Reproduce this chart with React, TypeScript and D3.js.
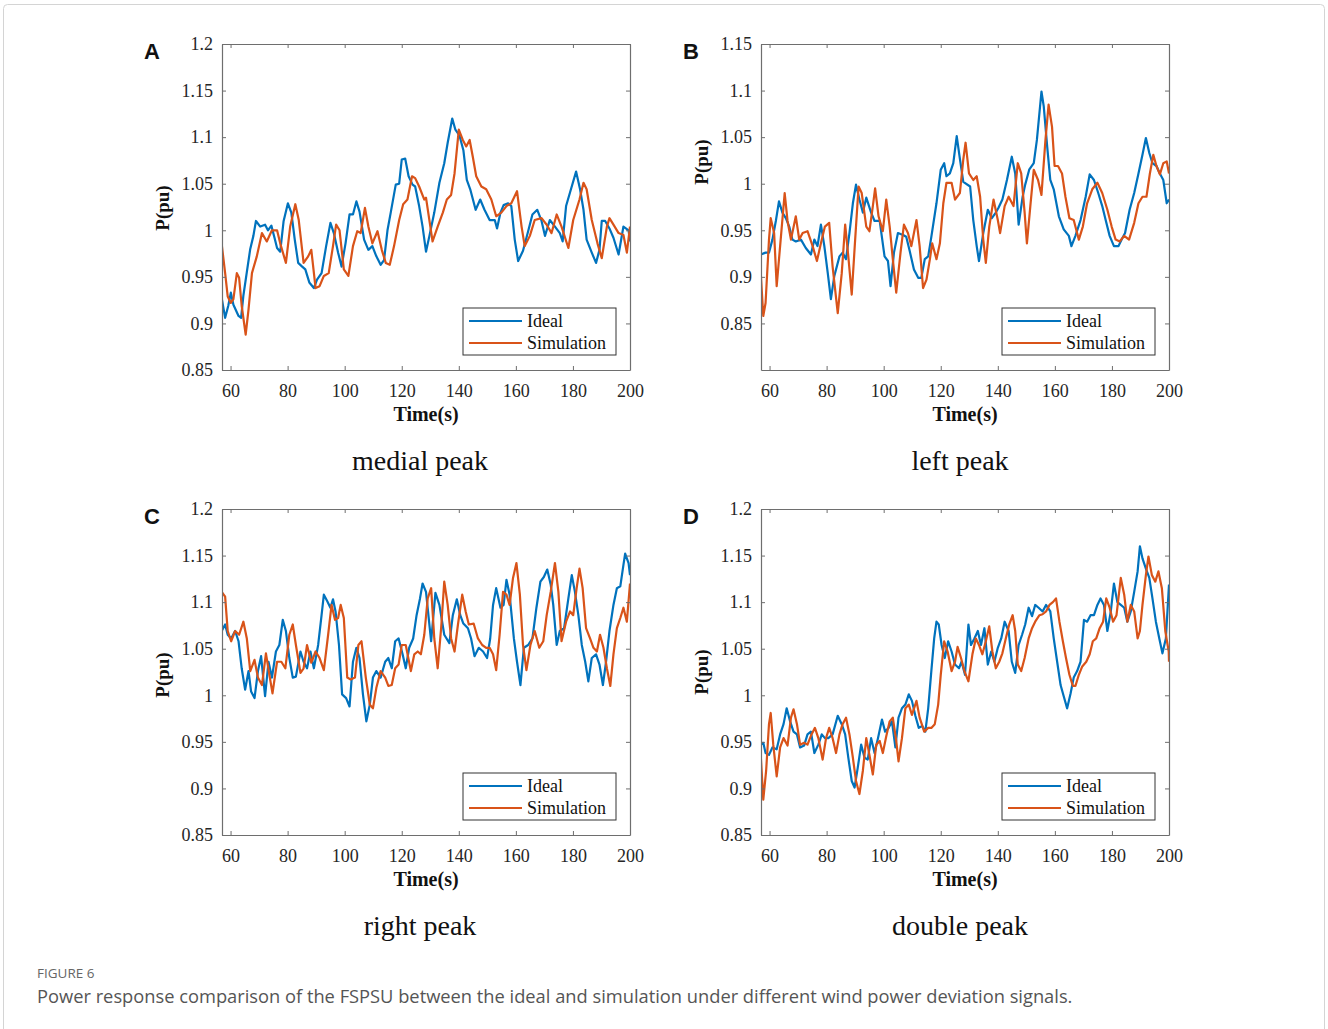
import React, { useRef, useEffect } from 'react';
import * as d3 from 'd3';

type Pt = [number, number];

// axis ticks
const xTicks = [60, 80, 100, 120, 140, 160, 180, 200];
const yTicksA = [0.85, 0.9, 0.95, 1, 1.05, 1.1, 1.15, 1.2];
const yTicksB = [0.85, 0.9, 0.95, 1, 1.05, 1.1, 1.15];

const seriesNames = ['Ideal', 'Simulation'];
const subtitles = ['medial peak', 'left peak', 'right peak', 'double peak'];

// (A) medial peak
const medialIdeal: Pt[] = [
  [56.9, 0.927], [58.1, 0.906], [59.2, 0.919], [60.1, 0.933], [61.0, 0.92], [62.8, 0.908], [63.7, 0.906], [64.5, 0.93],
  [65.7, 0.955], [66.9, 0.98], [68.0, 0.994], [68.9, 1.01], [70.4, 1.004], [72.1, 1.006], [73.1, 1.0], [74.3, 1.005],
  [75.4, 0.992], [76.3, 0.981], [77.4, 0.977], [78.6, 1.01], [80.1, 1.029], [81.3, 1.019], [82.5, 0.99], [83.7, 0.965],
  [85.1, 0.961], [86.2, 0.958], [87.6, 0.944], [89.2, 0.938], [90.3, 0.947], [91.9, 0.954], [93.5, 0.983], [95.0, 1.008],
  [96.2, 0.997], [97.7, 0.976], [98.9, 0.961], [100.3, 0.986], [101.7, 1.017], [102.9, 1.017], [104.1, 1.031], [105.2, 1.02],
  [106.8, 0.99], [108.3, 0.979], [109.7, 0.983], [111.1, 0.972], [112.6, 0.963], [113.8, 0.968], [115.0, 1.0], [116.2, 1.02],
  [117.9, 1.049], [119.1, 1.05], [120.0, 1.076], [121.2, 1.077], [122.4, 1.058], [123.8, 1.049], [124.7, 1.047], [126.1, 1.026],
  [127.3, 1.004], [128.5, 0.977], [129.7, 0.994], [131.4, 1.019], [133.2, 1.051], [134.9, 1.072], [136.1, 1.094], [137.7, 1.12],
  [138.8, 1.108], [140.2, 1.102], [141.6, 1.086], [142.8, 1.054], [144.0, 1.044], [145.9, 1.022], [147.5, 1.033], [149.0, 1.022],
  [150.8, 1.011], [152.6, 1.011], [153.4, 1.002], [154.6, 1.019], [155.7, 1.027], [157.3, 1.029], [158.4, 1.026], [159.6, 0.99],
  [160.8, 0.967], [162.5, 0.978], [164.3, 0.999], [165.8, 1.017], [167.5, 1.022], [169.0, 1.01], [170.2, 0.994], [171.9, 1.011],
  [173.7, 1.004], [175.4, 0.997], [176.4, 0.988], [177.6, 1.026], [179.2, 1.043], [181.1, 1.063], [182.5, 1.044], [183.7, 1.022],
  [184.8, 0.99], [186.6, 0.976], [188.1, 0.965], [189.3, 0.979], [190.1, 1.01], [191.3, 1.01], [192.8, 1.002], [194.2, 0.992],
  [196.0, 0.974], [197.7, 1.004], [199.5, 1.0], [200.0, 0.988],
];
const medialSim: Pt[] = [
  [56.9, 0.985], [58.1, 0.954], [59.0, 0.929], [60.1, 0.922], [61.0, 0.926], [62.2, 0.954], [63.0, 0.949], [63.9, 0.919],
  [65.3, 0.888], [66.3, 0.915], [67.5, 0.954], [69.2, 0.972], [71.0, 0.997], [72.7, 0.988], [74.5, 1.0], [76.3, 1.0],
  [77.4, 0.986], [79.4, 0.965], [80.9, 1.004], [82.7, 1.028], [83.9, 1.011], [85.6, 0.965], [87.2, 0.972], [88.3, 0.979],
  [89.8, 0.938], [91.2, 0.94], [92.7, 0.951], [94.4, 0.954], [95.9, 0.983], [97.0, 1.006], [98.2, 1.0], [99.7, 0.958],
  [101.3, 0.951], [102.9, 0.983], [104.4, 0.999], [105.6, 0.997], [107.1, 1.024], [108.3, 1.004], [109.7, 0.986], [111.5, 0.999],
  [113.0, 0.979], [114.4, 0.965], [115.8, 0.963], [117.3, 0.983], [119.1, 1.011], [120.5, 1.028], [122.0, 1.033], [123.6, 1.058],
  [124.7, 1.056], [126.1, 1.047], [127.9, 1.033], [128.5, 1.035], [130.8, 0.988], [132.6, 1.004], [134.4, 1.019], [135.8, 1.033],
  [137.3, 1.038], [138.5, 1.061], [140.0, 1.108], [141.4, 1.097], [142.6, 1.09], [143.8, 1.097], [144.9, 1.079], [146.1, 1.058],
  [147.9, 1.047], [149.6, 1.044], [151.4, 1.033], [153.1, 1.015], [154.9, 1.019], [156.7, 1.026], [158.4, 1.029], [160.4, 1.042],
  [162.0, 1.004], [163.1, 0.983], [164.9, 0.994], [166.6, 1.011], [169.0, 1.013], [170.8, 1.006], [172.5, 0.997], [174.3, 1.017],
  [176.0, 1.004], [178.4, 0.981], [180.1, 1.011], [182.3, 1.033], [183.7, 1.051], [184.8, 1.044], [186.6, 1.011], [188.6, 0.986],
  [190.1, 0.97], [191.9, 1.004], [192.8, 1.013], [194.2, 1.006], [196.0, 0.997], [197.7, 0.995], [198.9, 0.976], [200.0, 1.004],
];

// (B) left peak
const leftIdeal: Pt[] = [
  [56.9, 0.924], [58.6, 0.926], [59.8, 0.926], [61.0, 0.94], [62.2, 0.96], [63.3, 0.981], [64.5, 0.969], [65.7, 0.963],
  [66.9, 0.954], [68.0, 0.94], [69.2, 0.938], [71.0, 0.94], [72.7, 0.931], [74.5, 0.924], [75.7, 0.94], [76.8, 0.933],
  [78.0, 0.956], [79.2, 0.933], [80.4, 0.904], [81.5, 0.876], [82.7, 0.901], [84.5, 0.922], [85.6, 0.926], [86.8, 0.919],
  [88.0, 0.947], [89.2, 0.979], [90.3, 0.999], [91.5, 0.983], [92.7, 0.969], [93.9, 0.985], [95.6, 0.969], [96.8, 0.96],
  [98.6, 0.96], [100.3, 0.922], [101.5, 0.917], [102.4, 0.89], [103.6, 0.926], [105.0, 0.947], [106.8, 0.945], [107.9, 0.943],
  [109.1, 0.928], [110.6, 0.908], [112.1, 0.899], [113.2, 0.899], [114.4, 0.919], [115.6, 0.922], [116.7, 0.943], [118.5, 0.979],
  [120.0, 1.015], [121.2, 1.022], [122.0, 1.008], [123.2, 1.011], [124.4, 1.022], [125.6, 1.051], [126.7, 1.027], [127.9, 1.002],
  [130.3, 0.997], [131.4, 0.961], [132.6, 0.933], [133.4, 0.917], [134.9, 0.947], [136.5, 0.972], [137.9, 0.963], [139.3, 0.969],
  [140.2, 0.974], [141.6, 0.983], [143.2, 1.004], [144.9, 1.029], [146.1, 1.011], [147.3, 0.956], [148.7, 0.986], [149.6, 0.999],
  [151.0, 1.015], [152.6, 1.022], [153.7, 1.047], [155.3, 1.099], [156.1, 1.083], [157.3, 1.04], [158.4, 1.004], [159.6, 0.994],
  [161.4, 0.965], [163.1, 0.951], [164.9, 0.944], [165.8, 0.933], [167.2, 0.944], [169.0, 0.961], [170.8, 0.986], [172.2, 1.01],
  [173.7, 1.004], [175.2, 0.99], [176.6, 0.976], [177.8, 0.961], [179.2, 0.944], [180.7, 0.933], [182.3, 0.933], [183.4, 0.94],
  [184.6, 0.947], [186.2, 0.972], [187.8, 0.99], [189.3, 1.011], [190.7, 1.031], [191.9, 1.049], [193.1, 1.033], [194.2, 1.022],
  [195.6, 1.019], [196.8, 1.011], [198.0, 1.004], [199.2, 0.979], [200.0, 0.983],
];
const leftSim: Pt[] = [
  [56.7, 0.915], [57.8, 0.858], [58.6, 0.872], [59.8, 0.94], [60.4, 0.963], [61.6, 0.947], [62.5, 0.89], [63.7, 0.933],
  [65.3, 0.99], [66.3, 0.96], [67.5, 0.94], [69.2, 0.965], [70.4, 0.94], [71.6, 0.947], [73.3, 0.949], [75.1, 0.933],
  [76.6, 0.917], [78.0, 0.936], [79.4, 0.954], [80.9, 0.958], [82.1, 0.911], [83.9, 0.861], [85.3, 0.904], [86.5, 0.956],
  [87.6, 0.922], [88.8, 0.881], [90.0, 0.94], [91.2, 0.997], [92.3, 0.99], [93.9, 0.954], [95.0, 0.949], [96.2, 0.976],
  [97.0, 0.995], [98.2, 0.965], [99.7, 0.949], [100.9, 0.983], [102.1, 0.954], [103.2, 0.919], [104.4, 0.883], [105.9, 0.926],
  [107.1, 0.956], [108.5, 0.947], [109.7, 0.933], [111.5, 0.961], [112.6, 0.933], [113.8, 0.888], [115.0, 0.897], [116.2, 0.919],
  [117.0, 0.936], [118.5, 0.919], [119.7, 0.936], [120.9, 0.979], [122.0, 1.001], [123.8, 1.001], [125.0, 0.983], [126.7, 0.99],
  [127.9, 1.026], [128.7, 1.044], [129.9, 1.011], [131.4, 1.004], [132.6, 1.008], [133.8, 0.986], [134.9, 0.94], [135.8, 0.915],
  [137.0, 0.954], [138.5, 0.983], [140.0, 0.961], [140.8, 0.947], [142.4, 0.976], [143.8, 0.986], [145.5, 0.976], [147.0, 1.022],
  [148.2, 1.011], [149.4, 0.969], [150.2, 0.936], [151.4, 0.976], [152.6, 1.015], [154.1, 1.004], [155.3, 0.988], [156.7, 1.047],
  [157.8, 1.085], [159.0, 1.061], [159.9, 1.019], [161.1, 1.019], [162.5, 1.011], [163.7, 0.986], [165.1, 0.963], [166.6, 0.961],
  [168.4, 0.94], [169.8, 0.954], [171.3, 0.979], [173.1, 0.994], [174.9, 1.001], [176.6, 0.99], [178.4, 0.972], [179.9, 0.954],
  [181.3, 0.94], [182.7, 0.938], [184.3, 0.944], [186.0, 0.94], [187.8, 0.958], [189.3, 0.979], [190.7, 0.986], [192.1, 0.986],
  [193.3, 1.011], [194.5, 1.031], [195.6, 1.019], [196.8, 1.01], [198.0, 1.022], [199.2, 1.024], [200.0, 1.011],
];

// (C) right peak
const rightIdeal: Pt[] = [
  [56.9, 1.069], [58.1, 1.076], [59.0, 1.065], [60.2, 1.061], [61.6, 1.069], [62.8, 1.058], [63.9, 1.029], [65.1, 1.006],
  [66.3, 1.026], [67.2, 1.004], [68.4, 0.997], [69.6, 1.026], [70.7, 1.042], [72.1, 0.999], [73.3, 1.036], [74.5, 1.019],
  [75.9, 1.047], [77.1, 1.054], [78.3, 1.081], [79.4, 1.069], [80.6, 1.04], [81.8, 1.019], [82.9, 1.02], [84.5, 1.047],
  [85.6, 1.036], [86.8, 1.029], [88.0, 1.047], [89.2, 1.029], [90.7, 1.054], [91.9, 1.086], [92.7, 1.108], [93.9, 1.101],
  [95.0, 1.094], [95.9, 1.103], [96.8, 1.09], [98.0, 1.054], [99.1, 1.001], [100.5, 0.997], [101.7, 0.988], [102.9, 1.036],
  [104.1, 1.051], [105.2, 1.04], [106.4, 1.001], [107.6, 0.972], [108.8, 0.99], [109.9, 1.019], [111.1, 1.026], [112.6, 1.019],
  [114.2, 1.036], [115.3, 1.04], [116.5, 1.029], [117.7, 1.058], [118.9, 1.061], [120.3, 1.044], [121.4, 1.029], [122.6, 1.051],
  [124.0, 1.061], [125.2, 1.086], [126.4, 1.104], [127.3, 1.12], [128.5, 1.111], [130.3, 1.058], [131.8, 1.11], [133.2, 1.097],
  [134.9, 1.065], [136.7, 1.056], [137.9, 1.086], [139.3, 1.103], [140.5, 1.086], [141.6, 1.077], [143.2, 1.072], [144.3, 1.061],
  [145.5, 1.042], [147.0, 1.051], [148.5, 1.047], [149.9, 1.04], [151.0, 1.061], [152.0, 1.097], [153.1, 1.115], [154.6, 1.094],
  [155.7, 1.097], [156.7, 1.124], [157.8, 1.108], [159.3, 1.061], [160.4, 1.036], [161.6, 1.011], [162.8, 1.051], [164.3, 1.054],
  [165.8, 1.061], [167.2, 1.094], [168.6, 1.122], [169.8, 1.127], [171.0, 1.135], [172.2, 1.119], [173.1, 1.097], [174.3, 1.054],
  [175.4, 1.069], [176.9, 1.072], [178.4, 1.104], [179.6, 1.129], [180.7, 1.111], [181.9, 1.086], [183.1, 1.054], [184.3, 1.036],
  [185.4, 1.015], [186.6, 1.04], [188.1, 1.044], [189.3, 1.033], [190.5, 1.011], [191.6, 1.036], [192.8, 1.069], [194.2, 1.097],
  [195.4, 1.115], [196.6, 1.117], [197.7, 1.14], [198.3, 1.152], [199.5, 1.142], [200.0, 1.129],
];
const rightSim: Pt[] = [
  [56.9, 1.111], [58.1, 1.106], [59.0, 1.069], [60.2, 1.058], [61.6, 1.069], [63.0, 1.065], [64.5, 1.079], [65.7, 1.061],
  [66.9, 1.026], [68.4, 1.038], [69.6, 1.019], [71.0, 1.011], [72.4, 1.045], [73.6, 1.022], [74.7, 1.002], [76.3, 1.036],
  [77.8, 1.036], [79.2, 1.029], [80.6, 1.065], [81.8, 1.076], [82.9, 1.054], [84.5, 1.024], [85.6, 1.029], [86.8, 1.054],
  [88.3, 1.035], [89.8, 1.047], [91.2, 1.04], [92.7, 1.027], [94.2, 1.065], [95.4, 1.097], [96.6, 1.081], [97.7, 1.083],
  [98.6, 1.097], [99.7, 1.083], [100.9, 1.019], [102.1, 1.017], [103.6, 1.019], [104.8, 1.054], [105.9, 1.058], [107.4, 1.019],
  [108.8, 0.99], [109.9, 0.986], [111.1, 1.008], [112.6, 1.026], [114.2, 1.019], [115.3, 1.01], [116.5, 1.011], [117.7, 1.029],
  [118.9, 1.033], [120.0, 1.054], [121.4, 1.054], [123.2, 1.026], [124.4, 1.044], [125.6, 1.047], [126.7, 1.044], [127.9, 1.065],
  [129.1, 1.104], [130.3, 1.115], [131.4, 1.061], [132.6, 1.029], [133.8, 1.072], [134.9, 1.122], [136.1, 1.097], [137.3, 1.061],
  [138.5, 1.047], [139.7, 1.076], [141.2, 1.108], [142.4, 1.09], [143.5, 1.076], [145.2, 1.077], [146.7, 1.061], [148.2, 1.054],
  [149.6, 1.051], [150.8, 1.051], [152.0, 1.044], [153.1, 1.027], [154.3, 1.065], [155.5, 1.111], [156.7, 1.108], [157.8, 1.097],
  [159.0, 1.126], [160.2, 1.142], [161.4, 1.108], [162.5, 1.054], [163.7, 1.027], [165.1, 1.054], [166.6, 1.069], [168.2, 1.051],
  [169.6, 1.058], [170.8, 1.086], [172.2, 1.111], [173.7, 1.142], [174.9, 1.111], [176.0, 1.058], [177.6, 1.079], [179.0, 1.09],
  [180.1, 1.086], [181.3, 1.115], [182.3, 1.136], [183.4, 1.115], [184.6, 1.072], [186.0, 1.061], [187.2, 1.051], [188.4, 1.047],
  [189.5, 1.065], [190.7, 1.051], [191.9, 1.029], [193.1, 1.01], [194.2, 1.044], [195.4, 1.072], [196.6, 1.083], [197.7, 1.094],
  [198.9, 1.079], [200.0, 1.12],
];

// (D) double peak
const doubleIdeal: Pt[] = [
  [56.7, 0.947], [57.8, 0.949], [58.6, 0.938], [59.8, 0.936], [61.0, 0.944], [62.5, 0.942], [63.7, 0.958], [64.9, 0.969],
  [66.0, 0.986], [67.2, 0.972], [68.4, 0.961], [69.6, 0.958], [70.7, 0.944], [72.1, 0.946], [73.3, 0.958], [74.5, 0.961],
  [75.7, 0.938], [77.1, 0.947], [78.3, 0.958], [79.4, 0.954], [80.6, 0.954], [82.1, 0.958], [83.9, 0.978], [85.3, 0.969],
  [86.5, 0.958], [87.6, 0.933], [88.8, 0.908], [89.8, 0.901], [90.9, 0.922], [92.1, 0.947], [93.3, 0.933], [94.4, 0.931],
  [95.6, 0.954], [96.8, 0.938], [98.0, 0.954], [99.4, 0.974], [100.5, 0.961], [101.7, 0.965], [102.9, 0.972], [104.1, 0.944],
  [105.2, 0.976], [106.4, 0.986], [107.6, 0.99], [108.8, 1.001], [109.9, 0.994], [111.1, 0.978], [112.3, 0.965], [113.5, 0.967],
  [114.6, 0.961], [115.6, 0.986], [116.7, 1.026], [117.7, 1.061], [118.5, 1.079], [119.3, 1.076], [120.3, 1.054], [121.4, 1.04],
  [122.6, 1.058], [123.8, 1.047], [125.0, 1.033], [126.4, 1.029], [127.3, 1.036], [128.5, 1.022], [129.7, 1.076], [130.6, 1.054],
  [131.8, 1.061], [133.0, 1.069], [134.1, 1.054], [135.3, 1.072], [136.5, 1.033], [137.7, 1.047], [138.8, 1.036], [140.0, 1.051],
  [141.2, 1.061], [142.4, 1.079], [143.8, 1.069], [144.9, 1.036], [146.1, 1.024], [147.3, 1.054], [148.5, 1.065], [149.6, 1.076],
  [150.8, 1.094], [152.0, 1.085], [153.1, 1.097], [154.3, 1.094], [155.7, 1.09], [156.9, 1.097], [158.4, 1.09], [159.6, 1.061],
  [160.8, 1.036], [162.0, 1.011], [163.1, 0.999], [164.3, 0.986], [165.5, 1.002], [166.6, 1.019], [167.8, 1.026], [169.0, 1.036],
  [170.2, 1.081], [171.3, 1.079], [172.5, 1.086], [173.7, 1.086], [174.9, 1.097], [176.0, 1.104], [177.2, 1.097], [178.4, 1.069],
  [179.6, 1.09], [180.7, 1.12], [181.9, 1.1], [183.1, 1.097], [184.3, 1.094], [185.4, 1.079], [186.6, 1.09], [187.8, 1.111],
  [189.0, 1.133], [189.8, 1.16], [190.7, 1.147], [191.9, 1.136], [193.1, 1.126], [194.2, 1.104], [195.4, 1.079], [196.6, 1.061],
  [197.7, 1.045], [198.9, 1.061], [200.0, 1.119],
];
const doubleSim: Pt[] = [
  [56.7, 0.947], [57.8, 0.888], [58.8, 0.919], [59.8, 0.969], [60.4, 0.981], [61.3, 0.947], [62.5, 0.913], [63.7, 0.944],
  [64.9, 0.954], [66.3, 0.946], [67.5, 0.976], [68.4, 0.985], [69.6, 0.969], [70.7, 0.947], [72.1, 0.949], [73.3, 0.947],
  [74.7, 0.958], [75.9, 0.965], [77.1, 0.954], [78.6, 0.931], [79.8, 0.954], [80.9, 0.965], [82.1, 0.954], [83.3, 0.938],
  [84.5, 0.958], [85.6, 0.969], [86.8, 0.976], [88.0, 0.958], [89.2, 0.933], [90.3, 0.908], [91.5, 0.894], [92.7, 0.919],
  [93.9, 0.954], [95.0, 0.936], [96.2, 0.915], [97.4, 0.947], [98.6, 0.951], [99.7, 0.938], [100.9, 0.956], [102.1, 0.972],
  [103.2, 0.976], [104.4, 0.951], [105.2, 0.929], [106.4, 0.954], [107.6, 0.986], [108.8, 0.99], [109.9, 0.979], [111.5, 0.994],
  [112.6, 0.976], [114.2, 0.961], [115.6, 0.965], [116.7, 0.965], [117.9, 0.969], [119.1, 0.99], [120.0, 1.022], [121.2, 1.058],
  [122.4, 1.047], [123.8, 1.026], [125.0, 1.036], [125.9, 1.052], [127.1, 1.04], [128.3, 1.026], [129.7, 1.015], [131.1, 1.044],
  [132.3, 1.061], [133.4, 1.054], [134.6, 1.044], [135.8, 1.058], [137.0, 1.074], [138.1, 1.047], [139.3, 1.029], [140.5, 1.036],
  [141.6, 1.045], [142.8, 1.061], [144.0, 1.076], [145.2, 1.086], [146.1, 1.069], [147.0, 1.033], [148.2, 1.026], [149.4, 1.04],
  [150.8, 1.061], [152.0, 1.072], [153.1, 1.079], [154.6, 1.086], [155.7, 1.087], [156.9, 1.09], [158.1, 1.097], [159.3, 1.1],
  [160.4, 1.104], [161.6, 1.079], [162.8, 1.058], [163.9, 1.04], [165.1, 1.022], [166.3, 1.01], [167.2, 1.01], [168.4, 1.022],
  [169.6, 1.031], [171.0, 1.036], [172.2, 1.044], [173.3, 1.058], [174.5, 1.061], [175.7, 1.072], [176.9, 1.079], [178.0, 1.104],
  [179.2, 1.094], [180.4, 1.079], [181.6, 1.086], [183.1, 1.126], [184.3, 1.108], [185.4, 1.079], [186.6, 1.097], [187.8, 1.09],
  [189.0, 1.061], [189.8, 1.069], [190.7, 1.097], [191.9, 1.129], [192.8, 1.149], [194.0, 1.129], [195.2, 1.122], [196.3, 1.133],
  [197.5, 1.115], [198.7, 1.069], [199.9, 1.047], [200.0, 1.036],
];

const COLORS = ['#0072BD', '#D95319'];
const SERIF = '"Liberation Serif", "Times New Roman", serif';
const SANS = '"Open Sans", "Noto Sans", sans-serif';
const AXIS_GREY = '#6e6e6e';

const PW = 408;
const PH = 326;

const panels = [
  { id: 'A', left: 222, top: 44, yDomain: [0.85, 1.2], yTicks: yTicksA, series: [medialIdeal, medialSim], title: subtitles[0], titleX: 420, ylabelY: 208 },
  { id: 'B', left: 761, top: 44, yDomain: [0.8, 1.15], yTicks: yTicksB, series: [leftIdeal, leftSim], title: subtitles[1], titleX: 960, ylabelY: 162 },
  { id: 'C', left: 222, top: 509, yDomain: [0.85, 1.2], yTicks: yTicksA, series: [rightIdeal, rightSim], title: subtitles[2], titleX: 420, ylabelY: 675 },
  { id: 'D', left: 761, top: 509, yDomain: [0.85, 1.2], yTicks: yTicksA, series: [doubleIdeal, doubleSim], title: subtitles[3], titleX: 960, ylabelY: 672 },
];

const fmtY = (d: number) => String(+(+d).toFixed(2));

const App = () => {
  const svgRef = useRef<SVGSVGElement>(null);

  useEffect(() => {
    const svg = d3.select(svgRef.current);
    svg.selectAll('*').remove();

    svg.append('rect').attr('width', 1328).attr('height', 1029).attr('fill', '#fff');
    // outer frame
    svg
      .append('rect')
      .attr('x', 3.5)
      .attr('y', 4.5)
      .attr('width', 1321)
      .attr('height', 1040)
      .attr('rx', 4)
      .attr('fill', 'none')
      .attr('stroke', '#d4d4d4');

    panels.forEach((p) => {
      const g = svg.append('g');
      const right = p.left + PW;
      const bottom = p.top + PH;
      const x = d3.scaleLinear().domain([57, 200]).range([p.left, right]);
      const y = d3.scaleLinear().domain(p.yDomain).range([bottom, p.top]);

      svg
        .append('clipPath')
        .attr('id', `clip-${p.id}`)
        .append('rect')
        .attr('x', p.left)
        .attr('y', p.top)
        .attr('width', PW)
        .attr('height', PH);

      const line = d3
        .line<Pt>()
        .x((d) => x(d[0]))
        .y((d) => y(d[1]));

      p.series.forEach((s, i) => {
        g.append('path')
          .datum(s)
          .attr('clip-path', `url(#clip-${p.id})`)
          .attr('d', line)
          .attr('fill', 'none')
          .attr('stroke', COLORS[i])
          .attr('stroke-width', 2.2)
          .attr('stroke-linejoin', 'round');
      });

      // axes (MATLAB box with inward ticks)
      const bottomAxis = g
        .append('g')
        .attr('transform', `translate(0,${bottom})`)
        .call(d3.axisBottom(x).tickValues(xTicks).tickSizeInner(-4).tickSizeOuter(0).tickPadding(14).tickFormat(d3.format('d')));
      const topAxis = g
        .append('g')
        .attr('transform', `translate(0,${p.top})`)
        .call(d3.axisTop(x).tickValues(xTicks).tickSizeInner(-4).tickSizeOuter(0).tickFormat(() => ''));
      const leftAxis = g
        .append('g')
        .attr('transform', `translate(${p.left},0)`)
        .call(d3.axisLeft(y).tickValues(p.yTicks).tickSizeInner(-4).tickSizeOuter(0).tickPadding(9).tickFormat((d) => fmtY(d as number)));
      const rightAxis = g
        .append('g')
        .attr('transform', `translate(${right},0)`)
        .call(d3.axisRight(y).tickValues(p.yTicks).tickSizeInner(-4).tickSizeOuter(0).tickFormat(() => ''));

      [bottomAxis, topAxis, leftAxis, rightAxis].forEach((a) => {
        a.select('.domain').attr('stroke', AXIS_GREY).attr('stroke-width', 1.2);
        a.selectAll('.tick line').attr('stroke', AXIS_GREY);
        a.selectAll('.tick text')
          .attr('fill', '#262626')
          .style('font-family', SERIF)
          .style('font-size', '18px');
      });

      // panel letter
      g.append('text')
        .attr('x', p.left - 78)
        .attr('y', p.top + 15)
        .text(p.id)
        .style('font-family', '"Liberation Sans", Arial, sans-serif')
        .style('font-weight', 'bold')
        .style('font-size', '22px')
        .attr('fill', '#111');

      // y label
      g.append('text')
        .attr('transform', `translate(${p.left - 53},${p.ylabelY}) rotate(-90)`)
        .attr('text-anchor', 'middle')
        .text('P(pu)')
        .style('font-family', SERIF)
        .style('font-weight', 'bold')
        .style('font-size', '19px')
        .attr('fill', '#111');

      // x label
      g.append('text')
        .attr('x', p.left + PW / 2)
        .attr('y', bottom + 51)
        .attr('text-anchor', 'middle')
        .text('Time(s)')
        .style('font-family', SERIF)
        .style('font-weight', 'bold')
        .style('font-size', '20px')
        .attr('fill', '#111');

      // subtitle
      g.append('text')
        .attr('x', p.titleX)
        .attr('y', bottom + 100)
        .attr('text-anchor', 'middle')
        .text(p.title)
        .style('font-family', SERIF)
        .style('font-size', '28px')
        .attr('fill', '#111');

      // legend
      const lg = g.append('g').attr('transform', `translate(${p.left + 241},${p.top + 264})`);
      lg.append('rect')
        .attr('width', 153)
        .attr('height', 47)
        .attr('fill', '#fff')
        .attr('stroke', '#333')
        .attr('stroke-width', 1);
      seriesNames.forEach((name, i) => {
        const yy = 13 + i * 22;
        lg.append('line')
          .attr('x1', 6)
          .attr('x2', 59)
          .attr('y1', yy)
          .attr('y2', yy)
          .attr('stroke', COLORS[i])
          .attr('stroke-width', 2.2);
        lg.append('text')
          .attr('x', 64)
          .attr('y', yy + 6)
          .text(name)
          .style('font-family', SERIF)
          .style('font-size', '18px')
          .attr('fill', '#111');
      });
    });

    // caption
    svg
      .append('text')
      .attr('x', 37)
      .attr('y', 978)
      .text('FIGURE 6')
      .style('font-family', SANS)
      .style('font-size', '13.5px')
      .attr('fill', '#666');
    svg
      .append('text')
      .attr('x', 37)
      .attr('y', 1003)
      .text('Power response comparison of the FSPSU between the ideal and simulation under different wind power deviation signals.')
      .style('font-family', SANS)
      .style('font-size', '18.3px')
      .attr('fill', '#555');
  }, []);

  return (
    <div style={{ position: 'absolute', left: 0, top: 0 }}>
      <svg ref={svgRef} width={1328} height={1029} style={{ display: 'block' }} />
    </div>
  );
};

export default App;
